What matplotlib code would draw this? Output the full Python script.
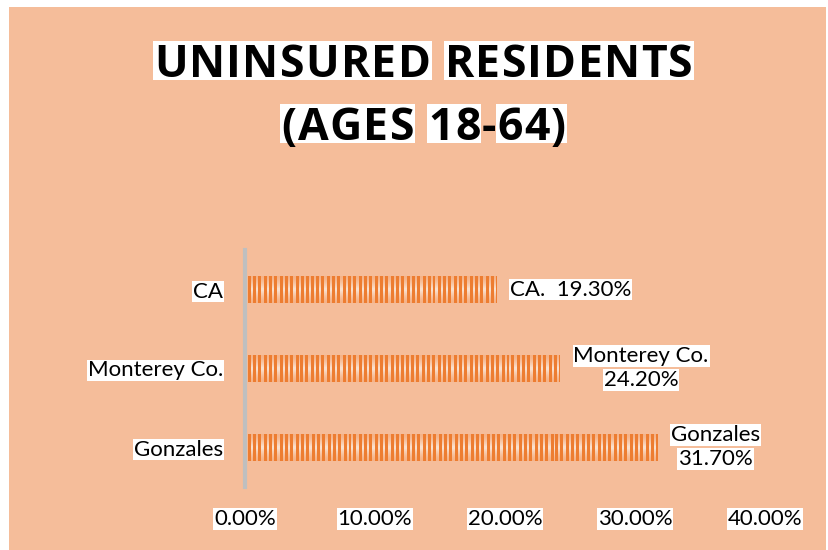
import matplotlib
matplotlib.use('Agg')
import matplotlib.pyplot as plt
import numpy as np
from matplotlib.patches import Rectangle

# dados
categorias = ['CA', 'Monterey Co.', 'Gonzales']
valores = [19.30, 24.20, 31.70]
rotulos = ['CA.', 'Monterey Co.', 'Gonzales']
ticks = [0, 10, 20, 30, 40]
titulo = ['UNINSURED RESIDENTS', '(AGES 18-64)']

fundo = '#F5BD9A'
laranja = '#ED7D31'
fonte = 'Lato'
caixa = dict(facecolor='white', edgecolor='none', pad=0.6)
W, H = 829, 550

fig = plt.figure(figsize=(W / 100, H / 100), dpi=100, facecolor='white')
fig.patches.append(Rectangle((9 / W, 0), (826 - 9) / W, 1 - 7 / H, transform=fig.transFigure,
                             facecolor=fundo, edgecolor='none', zorder=-5))

ax = fig.add_axes([245 / W, 63 / H, 520 / W, 237 / H])
ax.set_facecolor('none')
ax.set_xlim(0, 40)
ax.set_ylim(2.5, -0.5)

altura = 0.33
pos = np.arange(len(categorias))
barras = ax.barh(pos, valores, height=altura, color='none', edgecolor='none', zorder=2)

# textura listrada das barras (grupos de tres listras sobre degrade claro)
px_unid = ax.transData.transform((1, 0))[0] - ax.transData.transform((0, 0))[0]
px_alt = 26
claro = np.array([251, 227, 210]) / 255
borda = np.array([245, 178, 135]) / 255
cor_l = np.array(matplotlib.colors.to_rgb(laranja))
for b, v, y in zip(barras, valores, pos):
    ncol = int(round(v * px_unid))
    t = 1 - np.abs(np.linspace(-1, 1, px_alt))
    base = borda[None, :] + (claro - borda)[None, :] * t[:, None] ** 1.5
    img = np.repeat(base[:, None, :], ncol, axis=1)
    col = np.arange(ncol) % 16
    listra = (col < 3) | ((col >= 5) & (col < 8)) | ((col >= 10) & (col < 13))
    img[:, listra, :] = cor_l
    im = ax.imshow(img, extent=(0.2, v, y + altura / 2, y - altura / 2), aspect='auto',
                   interpolation='nearest', zorder=2)
    im.set_clip_path(b)

ax.set_xlim(0, 40)
ax.set_ylim(2.5, -0.5)

for s in ['top', 'right', 'bottom']:
    ax.spines[s].set_visible(False)
ax.spines['left'].set_color('#BFBFBF')
ax.spines['left'].set_linewidth(3)
ax.spines['left'].set_zorder(3)

ax.set_xticks(ticks)
ax.set_xticklabels([f'{t:.2f}%' for t in ticks])
ax.set_yticks(pos)
ax.set_yticklabels(categorias)
ax.tick_params(length=0)
ax.tick_params(axis='x', pad=16)
ax.tick_params(axis='y', pad=16)
for lbl in ax.get_xticklabels() + ax.get_yticklabels():
    lbl.set_fontfamily(fonte)
    lbl.set_fontsize(16)
    lbl.set_bbox(caixa)

# rotulos de dados
for i, (r, v, y) in enumerate(zip(rotulos, valores, pos)):
    if i == 0:
        ax.annotate(f'{r}  {v:.2f}%', xy=(v, y), xytext=(10, 0), textcoords='offset points',
                    ha='left', va='center', fontfamily=fonte, fontsize=16, bbox=caixa)
    else:
        nome = ax.annotate(r, xy=(v, y), xytext=(10, 2), textcoords='offset points',
                           ha='left', va='bottom', fontfamily=fonte, fontsize=16, bbox=caixa)
        ax.annotate(f'{v:.2f}%', xy=(0.5, 0), xycoords=nome, xytext=(0, -3),
                    textcoords='offset points', ha='center', va='top',
                    fontfamily=fonte, fontsize=16, bbox=caixa)

# titulo com espacamento entre letras, fundo branco por palavra
renderer = fig.canvas.get_renderer()
estilo_t = dict(fontfamily='Open Sans', fontweight='bold', fontsize=32)


def largura(s):
    tx = fig.text(0, 0, s, **estilo_t)
    w = tx.get_window_extent(renderer).width
    tx.remove()
    return w


espaco = largura('A A') - largura('AA')
larg_l1 = sum(largura(c) for c in titulo[0] if c != ' ')
tracking = (539 - larg_l1 - espaco * titulo[0].count(' ')) / (len(titulo[0]) - 1)

for linha, base_y in zip(titulo, [77, 140]):
    xs, ws = [], []
    x = 0
    for c in linha:
        w = espaco if c == ' ' else largura(c)
        xs.append(x)
        ws.append(w)
        x += w + tracking
    total = x - tracking
    x0 = 423.5 - total / 2
    # faixas brancas atras das palavras
    ini = None
    for k, c in enumerate(linha + ' '):
        marca = c not in ' -'
        if marca and ini is None:
            ini = k
        if not marca and ini is not None:
            a = x0 + xs[ini] - 1
            bfim = x0 + xs[k - 1] + ws[k - 1] + 1
            fig.patches.append(Rectangle((a / W, 1 - (base_y + 3) / H), (bfim - a) / W, 39 / H,
                                         transform=fig.transFigure, facecolor='white',
                                         edgecolor='none', zorder=1))
            ini = None
    for c, xc in zip(linha, xs):
        if c != ' ':
            fig.text((x0 + xc) / W, 1 - base_y / H, c, ha='left', va='baseline', zorder=2,
                     **estilo_t)

fig.savefig('out.png', dpi=100, facecolor=fig.get_facecolor())
